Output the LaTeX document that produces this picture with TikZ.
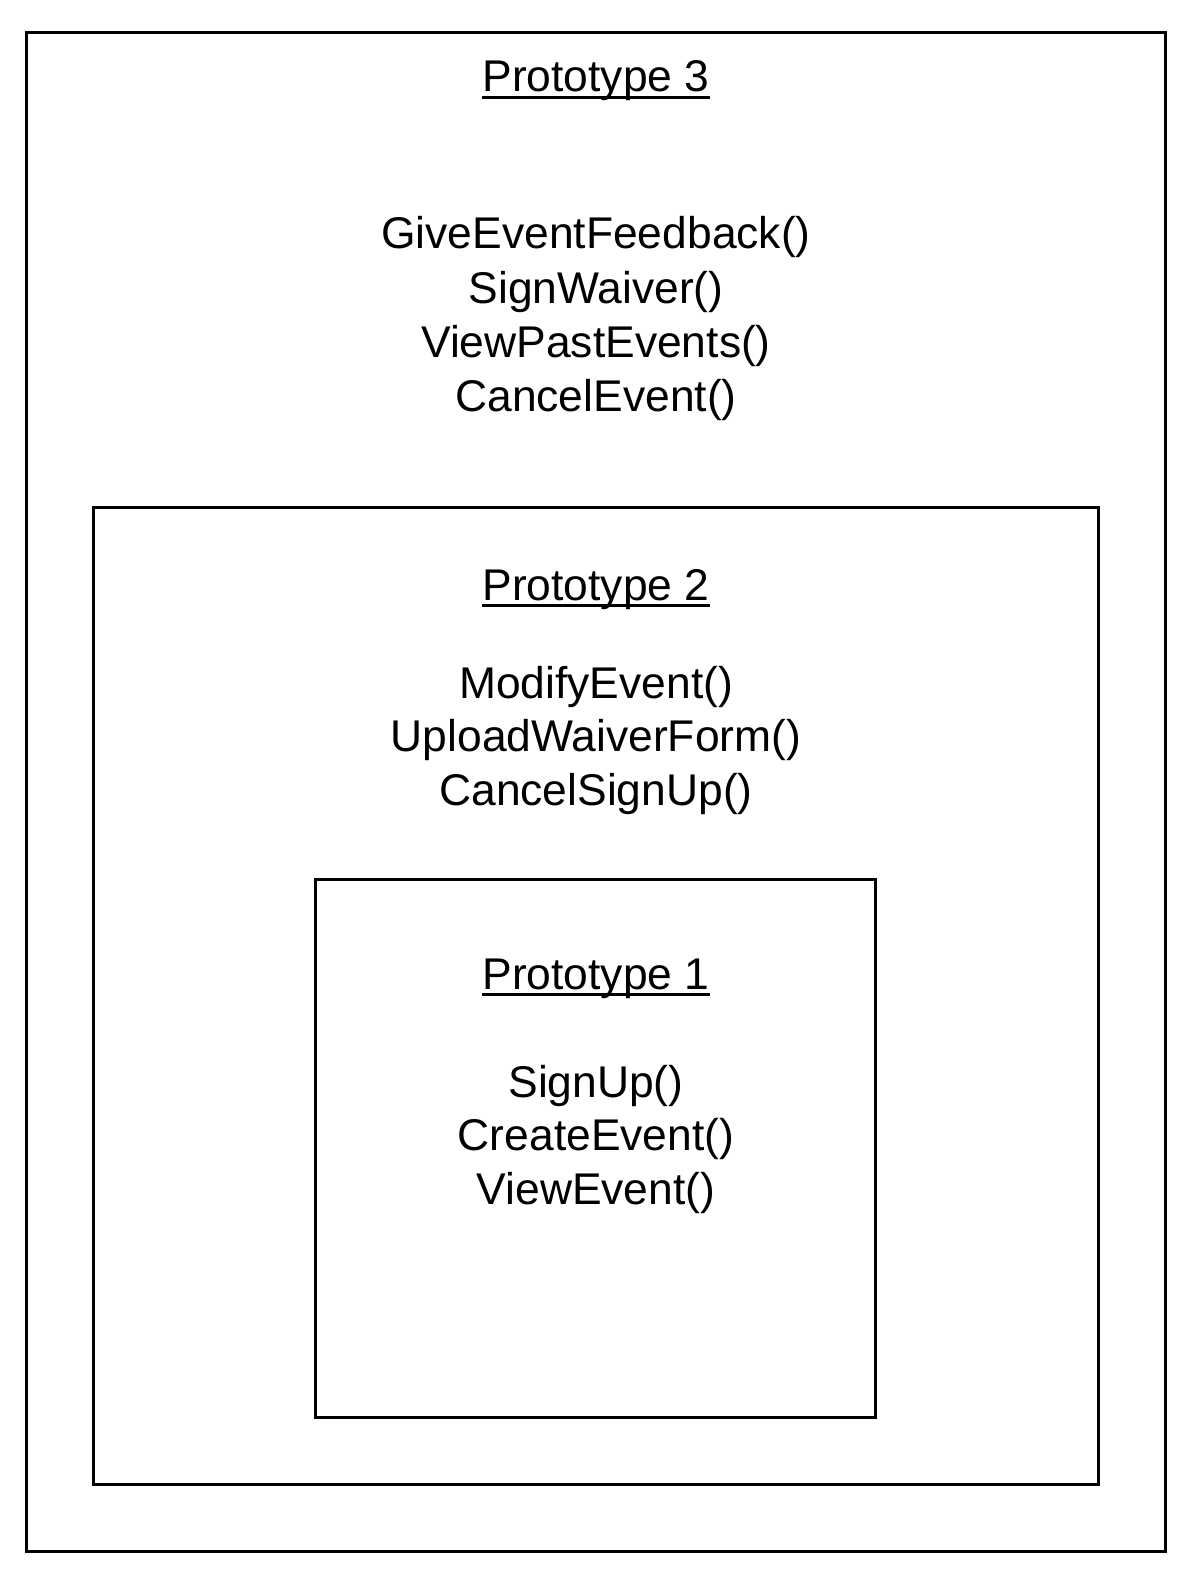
\documentclass[tikz,border=0pt]{standalone}
\usepackage{fontspec}
\setmainfont{Liberation Sans}
\begin{document}
\begin{tikzpicture}[x=0.5pt,y=-0.5pt,
  frame/.style={draw=black,line width=1.5pt},
  txt/.style={inner sep=0pt,anchor=base,font=\fontsize{22.2}{26.6}\selectfont},
  uline/.style={draw=black,line width=1.4pt}]
\useasboundingbox (0,0) rectangle (1194,1584);
% frames
\draw[frame] (26,33) rectangle (1165,1551);
\draw[frame] (93,507) rectangle (1098,1484);
\draw[frame] (315,879) rectangle (875,1417);
% Prototype 3
\node[txt] (p3) at (596,92) {Prototype 3};
\draw[uline] ([yshift=-2.6pt]p3.base west) -- ([yshift=-2.6pt]p3.base east);
\node[txt] (a1) at (596,248) {GiveEventFeedback()};
\node[txt] (a2) at (596,303) {SignWaiver()};
\node[txt] (a3) at (596,357) {ViewPastEvents()};
\node[txt] (a4) at (596,411) {CancelEvent()};
% Prototype 2
\node[txt] (p2) at (596,600) {Prototype 2};
\draw[uline] ([yshift=-2.6pt]p2.base west) -- ([yshift=-2.6pt]p2.base east);
\node[txt] (b1) at (596,698) {ModifyEvent()};
\node[txt] (b2) at (596,751) {UploadWaiverForm()};
\node[txt] (b3) at (596,805) {CancelSignUp()};
% Prototype 1
\node[txt] (p1) at (596,989) {Prototype 1};
\draw[uline] ([yshift=-2.6pt]p1.base west) -- ([yshift=-2.6pt]p1.base east);
\node[txt] (c1) at (596,1097) {SignUp()};
\node[txt] (c2) at (596,1150) {CreateEvent()};
\node[txt] (c3) at (596,1204) {ViewEvent()};
\end{tikzpicture}
\end{document}
